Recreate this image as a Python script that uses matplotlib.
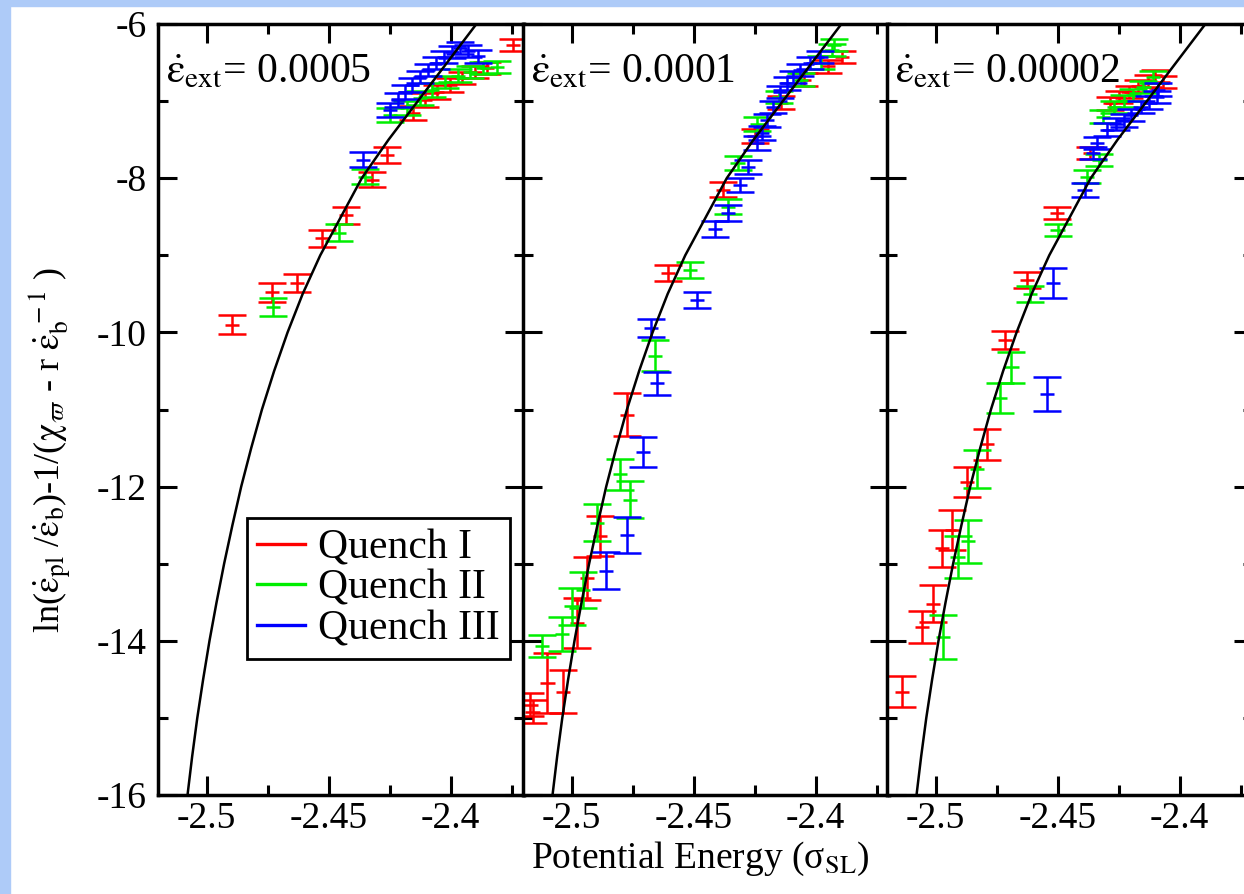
import matplotlib
matplotlib.use('Agg')
import matplotlib.pyplot as plt
from matplotlib.lines import Line2D
from matplotlib.patches import Rectangle
from matplotlib.ticker import MultipleLocator

plt.rcParams['font.family'] = ['Liberation Serif', 'DejaVu Serif']
plt.rcParams['mathtext.fontset'] = 'stix'
plt.rcParams['axes.unicode_minus'] = False

# fitted curve (same in every panel)
curve_y = [-16.5, -16, -15.5, -15, -14.5, -14, -13.5, -13, -12.5, -12, -11.5, -11, -10.5,
           -10, -9.5, -9, -8.5, -8, -7.5, -7, -6.5, -6, -5.5]
curve_x = [-2.5097, -2.5079, -2.5060, -2.5039, -2.5015, -2.4989, -2.4960, -2.4929, -2.4895,
           -2.4859, -2.4818, -2.4774, -2.4724, -2.4669, -2.4607, -2.4535, -2.4450, -2.4365,
           -2.4255, -2.4135, -2.4015, -2.3895, -2.3760]

# panel A: rate 0.0005
a_red_x = [-2.4897, -2.4733, -2.4630, -2.4528, -2.4430, -2.4323, -2.4261, -2.4155, -2.4106,
           -2.4057, -2.4003, -2.3954, -2.3901, -2.3852, -2.3745]
a_red_y = [-9.90, -9.48, -9.36, -8.78, -8.48, -8.02, -7.70, -7.15, -6.99, -6.88, -6.79,
           -6.70, -6.62, -6.57, -6.27]
a_red_e = [0.12, 0.12, 0.12, 0.11, 0.11, 0.10, 0.10, 0.09, 0.09, 0.09, 0.09, 0.08, 0.08, 0.08, 0.08]
a_grn_x = [-2.4729, -2.4458, -2.4352, -2.4249, -2.4180, -2.4126, -2.4077, -2.4024, -2.3970,
           -2.3921, -2.3868, -2.3810]
a_grn_y = [-9.67, -8.71, -7.98, -7.18, -7.09, -6.96, -6.86, -6.75, -6.67, -6.62, -6.57, -6.56]
a_grn_e = [0.12, 0.11, 0.10, 0.09, 0.09, 0.09, 0.09, 0.08, 0.08, 0.08, 0.08, 0.08]
a_blu_x = [-2.4360, -2.4249, -2.4216, -2.4188, -2.4159, -2.4126, -2.4093, -2.4060, -2.4028,
           -2.3995, -2.3962, -2.3930, -2.3889]
a_blu_y = [-7.76, -7.12, -6.99, -6.88, -6.79, -6.69, -6.60, -6.51, -6.43, -6.36, -6.31,
           -6.35, -6.42]
a_blu_e = [0.10, 0.09, 0.09, 0.09, 0.09, 0.08, 0.08, 0.08, 0.08, 0.08, 0.08, 0.08, 0.08]

# panel B: rate 0.0001
b_red_x = [-2.5160, -2.5170, -2.5100, -2.5036, -2.4979, -2.4938, -2.4885, -2.4774, -2.4606,
           -2.4380, -2.4250, -2.4143, -2.4050, -2.3950, -2.3893]
b_red_y = [-14.92, -14.83, -14.55, -14.66, -13.77, -13.19, -12.64, -11.07, -9.23, -8.15,
           -7.45, -7.02, -6.72, -6.55, -6.43]
b_red_e = [0.15, 0.15, 0.39, 0.28, 0.32, 0.28, 0.26, 0.28, 0.10, 0.10, 0.09, 0.08, 0.08, 0.08, 0.08]
b_grn_x = [-2.5122, -2.5040, -2.5000, -2.4954, -2.4897, -2.4803, -2.4762, -2.4659, -2.4516,
           -2.4360, -2.4320, -2.4240, -2.4150, -2.4060, -2.3980, -2.3935, -2.3925]
b_grn_y = [-14.07, -13.91, -13.55, -13.34, -12.47, -11.84, -12.17, -10.30, -9.19, -8.37,
           -7.80, -7.30, -6.95, -6.72, -6.50, -6.34, -6.27]
b_grn_e = [0.14, 0.22, 0.24, 0.23, 0.24, 0.20, 0.24, 0.20, 0.10, 0.10, 0.09, 0.09, 0.08, 0.08,
           0.08, 0.08, 0.08]
b_blu_x = [-2.4860, -2.4774, -2.4708, -2.4651, -2.4675, -2.4487, -2.4413, -2.4360, -2.4311,
           -2.4278, -2.4242, -2.4220, -2.4200, -2.4175, -2.4147, -2.4118, -2.4093, -2.4065,
           -2.4024, -2.3982]
b_blu_y = [-13.09, -12.63, -11.55, -10.66, -9.94, -9.58, -8.66, -8.45, -8.09, -7.85, -7.54,
           -7.41, -7.25, -7.08, -6.88, -6.77, -6.69, -6.60, -6.51, -6.43]
b_blu_e = [0.24, 0.23, 0.19, 0.15, 0.12, 0.11, 0.10, 0.10, 0.09, 0.09, 0.09, 0.09, 0.08, 0.08,
           0.08, 0.08, 0.08, 0.08, 0.08, 0.08]

# panel C: rate 0.00002
c_red_x = [-2.5139, -2.5057, -2.5011, -2.4975, -2.4934, -2.4872, -2.4790, -2.4717, -2.4626,
           -2.4503, -2.4368, -2.4286, -2.4250, -2.4210, -2.4170, -2.4130, -2.4100, -2.4069]
c_red_y = [-14.66, -13.82, -13.52, -12.80, -12.56, -11.94, -11.45, -10.10, -9.32, -8.45,
           -7.67, -7.03, -6.95, -6.88, -6.80, -6.74, -6.68, -6.75]
c_red_e = [0.20, 0.21, 0.24, 0.24, 0.26, 0.20, 0.20, 0.12, 0.10, 0.08, 0.08, 0.08, 0.08, 0.08,
           0.08, 0.08, 0.08, 0.08]
c_grn_x = [-2.4970, -2.4910, -2.4868, -2.4831, -2.4737, -2.4690, -2.4614, -2.4500, -2.4380,
           -2.4330, -2.4315, -2.4270, -2.4230, -2.4190, -2.4150, -2.4110]
c_grn_y = [-13.95, -12.91, -12.71, -11.77, -10.85, -10.45, -9.50, -8.67, -7.98, -7.76,
           -7.20, -7.08, -7.00, -6.92, -6.82, -6.69]
c_grn_e = [0.29, 0.27, 0.28, 0.25, 0.20, 0.20, 0.10, 0.08, 0.08, 0.08, 0.08, 0.08, 0.08, 0.08,
           0.08, 0.08]
c_blu_x = [-2.4545, -2.4520, -2.4390, -2.4356, -2.4340, -2.4298, -2.4260, -2.4230, -2.4200,
           -2.4160, -2.4125, -2.4093, -2.4090]
c_blu_y = [-10.80, -9.36, -8.15, -7.67, -7.54, -7.37, -7.30, -7.25, -7.18, -7.08, -7.02,
           -6.95, -6.85]
c_blu_e = [0.22, 0.20, 0.09, 0.08, 0.08, 0.08, 0.08, 0.08, 0.08, 0.08, 0.08, 0.08, 0.08]

rates = ['0.0005', '0.0001', '0.00002']
quench_labels = ['Quench I', 'Quench II', 'Quench III']
quench_colors = ['#ff0000', '#00ee00', '#0000ff']

panels = [
    [(a_red_x, a_red_y, a_red_e), (a_grn_x, a_grn_y, a_grn_e), (a_blu_x, a_blu_y, a_blu_e)],
    [(b_red_x, b_red_y, b_red_e), (b_grn_x, b_grn_y, b_grn_e), (b_blu_x, b_blu_y, b_blu_e)],
    [(c_red_x, c_red_y, c_red_e), (c_grn_x, c_grn_y, c_grn_e), (c_blu_x, c_blu_y, c_blu_e)],
]

W, H = 1244, 894
fig = plt.figure(figsize=(W / 100, H / 100), dpi=100)
fig.patches.append(Rectangle((0, 0), 10 / W, 1, transform=fig.transFigure,
                             color='#aecbf8', zorder=-5))
fig.patches.append(Rectangle((0, 1 - 6 / H), 1, 6 / H, transform=fig.transFigure,
                             color='#aecbf8', zorder=-5))

eps = r'\dot{\mathrm{\varepsilon}}'

lefts = [158, 523, 887]
axes = []
for i, left in enumerate(lefts):
    ax = fig.add_axes([left / W, 99 / H, 366 / W, 771 / H])
    for (xs, ys, es), col in zip(panels[i], quench_colors):
        ax.errorbar(xs, ys, xerr=0.003, fmt='none', ecolor=col, elinewidth=1.8, capsize=0)
        ax.errorbar(xs, ys, yerr=es, fmt='none', ecolor=col, elinewidth=1.8,
                    capsize=10, capthick=1.8)
    ax.plot(curve_x, curve_y, color='black', lw=1.8, zorder=5)
    ax.set_xlim(-2.52, -2.37)
    ax.set_ylim(-16, -6)
    ax.set_xticks([-2.5, -2.45, -2.4])
    ax.set_xticklabels(['-2.5', '-2.45', '-2.4'])
    ax.xaxis.set_minor_locator(MultipleLocator(0.025))
    ax.set_yticks([-16, -14, -12, -10, -8, -6])
    ax.yaxis.set_minor_locator(MultipleLocator(1))
    if i == 0:
        ax.set_yticklabels(['-16', '-14', '-12', '-10', '-8', '-6'])
    else:
        ax.set_yticklabels([])
    ax.tick_params(which='both', direction='in', top=True, right=True, width=2.2,
                   labelsize=27)
    ax.tick_params(which='major', length=14)
    ax.tick_params(which='minor', length=7)
    ax.tick_params(axis='x', pad=5)
    ax.tick_params(axis='y', pad=8)
    for sp in ax.spines.values():
        sp.set_linewidth(2.5)
    ax.text(0.022, 0.925, '$' + eps + r'_{\rm ext}$= ' + rates[i],
            transform=ax.transAxes, fontsize=30, va='baseline')
    axes.append(ax)

handles = [Line2D([], [], color=c, lw=2.4) for c in quench_colors]
leg = axes[0].legend(handles, quench_labels, loc='upper left',
                     bbox_to_anchor=(0.243, 0.359), fontsize=30, frameon=True,
                     fancybox=False, edgecolor='black', framealpha=1,
                     handlelength=1.15, handletextpad=0.3, labelspacing=0.05,
                     borderpad=0.25, borderaxespad=0)
leg.get_frame().set_linewidth(2)

ylab = ('ln($' + eps + r'_{\rm pl}$ /$' + eps + r'_{\rm b}$)-1/($\mathrm{\chi}_{\varpi}$ - r $'
        + eps + r'_{\rm b}^{\ -1}$ )')
fig.text(50 / W, 0.497, ylab, rotation=90, fontsize=26, ha='center', va='center')
fig.text(700 / W, 1 - 868 / H, r'Potential Energy (σ$_{\rm SL}$)',
         fontsize=27, ha='center', va='baseline')

fig.savefig('out.png', dpi=100)
